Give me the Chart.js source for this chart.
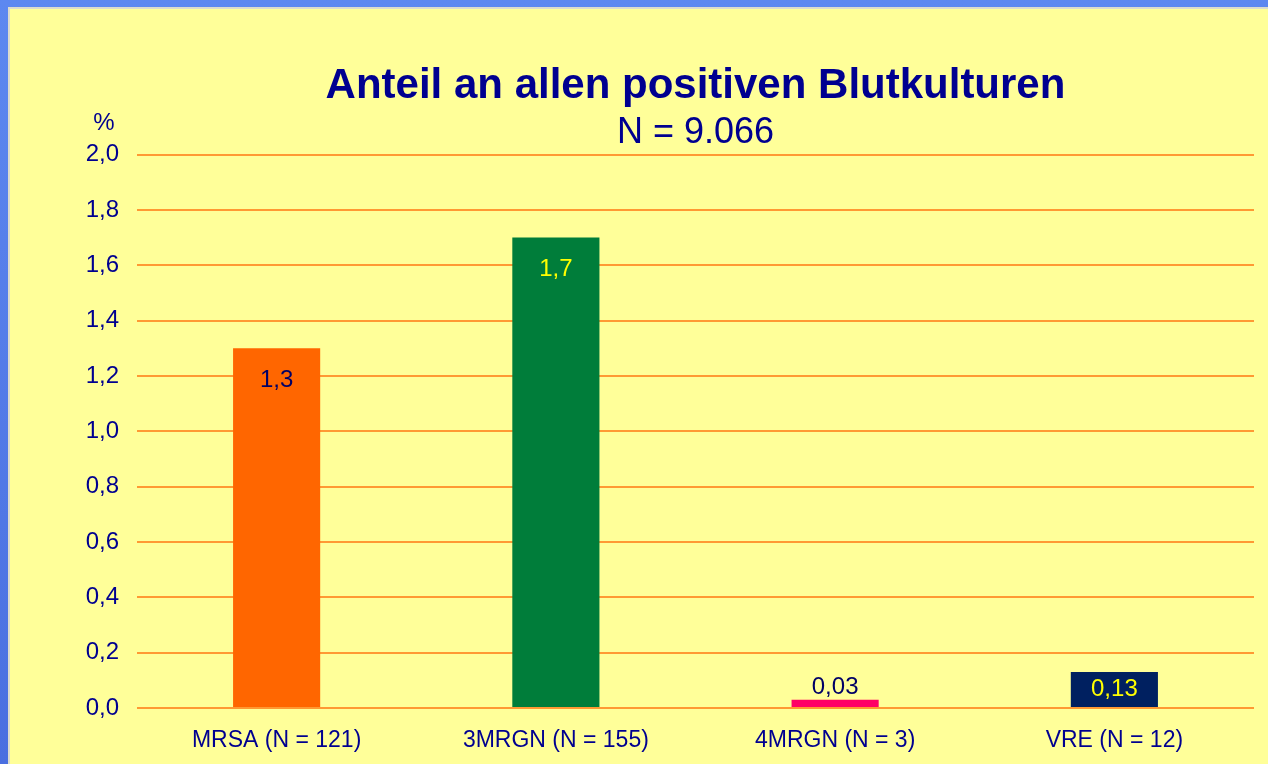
<!DOCTYPE html>
<html>
<head>
<meta charset="utf-8">
<script src="https://cdn.jsdelivr.net/npm/chart.js@4"></script>
<style>
  html, body { margin: 0; padding: 0; }
  body { width: 1268px; height: 764px; background: linear-gradient(180deg, #5d88f0, #4a6fe0); position: relative; overflow: hidden; }
  #panel { position: absolute; left: 8px; top: 7px; width: 1260px; height: 757px; background: #ffff99; border-left: 2px solid #dcdccc; border-top: 2px solid #dcdccc; box-sizing: border-box; }
  #wrap { position: absolute; left: 0; top: 0; width: 1268px; height: 764px; }
</style>
</head>
<body>
<div id="panel"></div>
<div id="wrap"><canvas id="chart" width="1268" height="764"></canvas></div>
<script>
const categories = ["MRSA (N = 121)", "3MRGN (N = 155)", "4MRGN (N = 3)", "VRE (N = 12)"];
const shares = [1.3, 1.7, 0.03, 0.13];
const barColors = ["#ff6600", "#007d3a", "#ff0066", "#002060"];
const valueLabelColors = ["#000066", "#ffff00", "#000066", "#ffff00"];

const fontFamily = '"Liberation Sans", Arial, sans-serif';
const navy = "#000090";

const comma = (v) => String(v).replace(".", ",");

// value labels and the "%" unit above the y axis
const labelPlugin = {
  id: "valueLabels",
  afterDatasetsDraw(chart) {
    const ctx = chart.ctx;
    const meta = chart.getDatasetMeta(0);
    ctx.save();
    ctx.font = "24px " + fontFamily;
    ctx.textAlign = "center";
    ctx.textBaseline = "middle";
    meta.data.forEach((bar, i) => {
      const h = bar.base - bar.y;
      let y;
      if (h > 60) y = bar.y + 32;
      else if (h > 25) y = bar.y + h / 2;
      else y = bar.y - 12;
      ctx.fillStyle = valueLabelColors[i];
      ctx.fillText(comma(shares[i]), bar.x, y);
    });
    const yScale = chart.scales.y;
    ctx.fillStyle = navy;
    ctx.font = "24px " + fontFamily;
    ctx.fillText("%", yScale.right - 33, chart.chartArea.top - 31);
    ctx.restore();
  },
};

new Chart(document.getElementById("chart"), {
  type: "bar",
  plugins: [labelPlugin],
  data: {
    labels: categories,
    datasets: [
      {
        data: shares,
        backgroundColor: barColors,
        barPercentage: 0.312,
        categoryPercentage: 1,
      },
    ],
  },
  options: {
    responsive: false,
    animation: false,
    layout: { padding: { top: 0, right: 14, bottom: 0, left: 0 } },
    plugins: {
      legend: { display: false },
      tooltip: { enabled: false },
      title: {
        display: true,
        fullSize: false,
        text: "Anteil an allen positiven Blutkulturen",
        color: navy,
        font: { family: fontFamily, size: 42, weight: "bold" },
        padding: { top: 61, bottom: 0 },
      },
      subtitle: {
        display: true,
        fullSize: false,
        text: "N = 9.066",
        color: navy,
        font: { family: fontFamily, size: 36 },
        padding: { top: 0, bottom: 0 },
      },
    },
    scales: {
      x: {
        grid: { display: false },
        border: { display: false },
        ticks: {
          color: navy,
          font: { family: fontFamily, size: 23 },
          padding: 11,
        },
        afterFit: (scale) => { scale.height = 56; },
      },
      y: {
        min: 0,
        max: 2,
        border: { display: false },
        grid: { color: "#ff9933", lineWidth: 2, drawTicks: false, tickLength: 0 },
        ticks: {
          stepSize: 0.2,
          color: navy,
          font: { family: fontFamily, size: 24 },
          padding: 18,
          callback: (v) => v.toFixed(1).replace(".", ","),
        },
        afterFit: (scale) => { scale.width = 137; },
      },
    },
  },
});
</script>
</body>
</html>
